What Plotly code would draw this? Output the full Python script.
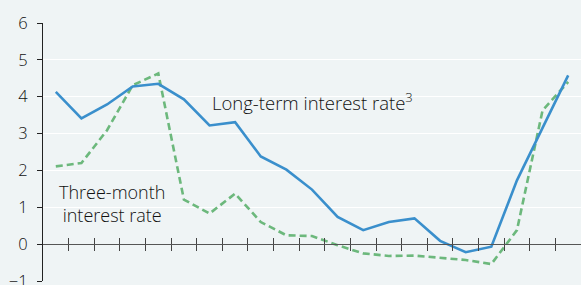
import plotly.graph_objects as go

periods = list(range(21))
long_term = [4.13, 3.41, 3.79, 4.28, 4.35, 3.93, 3.22, 3.31, 2.38, 2.02, 1.48,
             0.74, 0.38, 0.60, 0.70, 0.09, -0.22, -0.07, 1.73, 3.16, 4.58]
three_month = [2.11, 2.20, 3.09, 4.31, 4.63, 1.21, 0.83, 1.37, 0.60, 0.24, 0.22,
               -0.03, -0.25, -0.32, -0.31, -0.36, -0.43, -0.54, 0.38, 3.63, 4.40]
y_ticks = [-1, 0, 1, 2, 3, 4, 5, 6]
x_ticks = [i + 0.5 for i in range(21)]

BG = "#eff4f5"
FONT = "'Open Sans', Lato, sans-serif"
TXT = "#111111"

fig = go.Figure()
fig.add_trace(go.Scatter(x=periods, y=three_month, mode="lines",
                         line=dict(color="#6cb87c", width=2.6, dash="7px,4px"),
                         showlegend=False))
fig.add_trace(go.Scatter(x=periods, y=long_term, mode="lines",
                         line=dict(color="#3a8fcc", width=2.6),
                         showlegend=False))
# invisible trace to activate the second x axis (upper half of crossing ticks)
fig.add_trace(go.Scatter(x=[periods[0]], y=[long_term[0]], xaxis="x2",
                         mode="markers", marker=dict(opacity=0),
                         showlegend=False, hoverinfo="skip"))

pos0 = (0 - y_ticks[0]) / (y_ticks[-1] - y_ticks[0])
ann_font = dict(family=FONT, size=18.5, color=TXT, weight=300)

fig.update_layout(
    width=581, height=285,
    margin=dict(l=43, r=0, t=23, b=4, autoexpand=False),
    paper_bgcolor=BG, plot_bgcolor=BG,
    font=dict(family=FONT, size=16, color=TXT),
    xaxis=dict(range=[-0.5, 20.5], showgrid=False, zeroline=False, automargin=False,
               tickmode="array", tickvals=x_ticks, showticklabels=False,
               ticks="outside", ticklen=6, tickcolor="#444", tickwidth=1,
               showline=True, linecolor="#555", linewidth=1.2,
               anchor="free", position=pos0),
    xaxis2=dict(range=[-0.5, 20.5], overlaying="x", showgrid=False, zeroline=False,
                automargin=False,
                tickmode="array", tickvals=x_ticks, showticklabels=False,
                ticks="inside", ticklen=6, tickcolor="#444", tickwidth=1,
                showline=False, anchor="free", position=pos0, side="bottom"),
    yaxis=dict(range=[-1, 6], tickmode="array", tickvals=y_ticks, automargin=False,
               showgrid=True, gridcolor="#ffffff", gridwidth=1.2,
               zeroline=False, showline=True, linecolor="#222", linewidth=1.2,
               ticks="outside", ticklen=5, tickcolor="#222",
               ticklabeloverflow="allow",
               tickfont=dict(family=FONT, size=16.5, color=TXT, weight=300),
               ticklabelstandoff=6),
    annotations=[
        dict(x=6.02, y=3.87, xref="x", yref="y", xanchor="left", yanchor="middle",
             text="Long-term interest rate<sup>3</sup>", showarrow=False,
             font=ann_font),
        dict(x=2.21, y=1.09, xref="x", yref="y", xanchor="center", yanchor="middle",
             text="Three-month<br>interest rate", showarrow=False, align="center",
             font=dict(family=FONT, size=18, color=TXT, weight=300)),
    ],
)

fig.write_html("out.html",
               config={"displayModeBar": False},
               post_script="document.body.style.margin='0';"
                           "document.body.style.background='#eff4f5';")
